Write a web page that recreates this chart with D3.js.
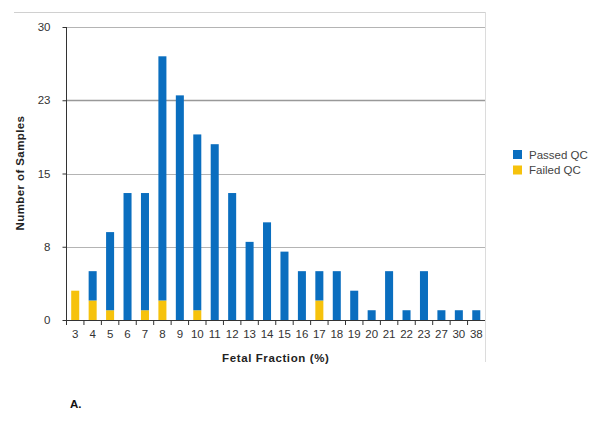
<!DOCTYPE html>
<html>
<head>
<meta charset="utf-8">
<script src="https://cdn.jsdelivr.net/npm/d3@7"></script>
<style>
  body { margin: 0; background: #fff; }
  svg { display: block; font-family: "Liberation Sans", Arial, sans-serif; }
</style>
</head>
<body>
<div id="chart"></div>
<script>
// fetal fraction bins and sample counts
var categories = ["3","4","5","6","7","8","9","10","11","12","13","14","15","16","17","18","19","20","21","22","23","27","30","38"];
var passed = [0, 3, 8, 13, 12, 25, 23, 18, 18, 13, 8, 10, 7, 5, 3, 5, 3, 1, 5, 1, 5, 1, 1, 1];
var failed = [3, 2, 1, 0, 1, 2, 0, 1, 0, 0, 0, 0, 0, 0, 2, 0, 0, 0, 0, 0, 0, 0, 0, 0];
var yTicks = [0, 7.5, 15, 22.5, 30];
var seriesNames = ["Passed QC", "Failed QC"];

var width = 600,
    height = 436,
    plotLeft = 66.5,
    plotRight = 485,
    plotTop = 27,
    plotBottom = 320;

var colors = {"Passed QC": "#0a6ebf", "Failed QC": "#f6c20c"};

var svg = d3.select('#chart')
    .append('svg')
    .attr('width', width)
    .attr('height', height);

var x = d3.scaleBand()
    .domain(categories)
    .range([plotLeft, plotRight])
    .paddingInner(0.54)
    .paddingOuter(0.27);

var y = d3.scaleLinear()
    .domain([0, 30])
    .range([plotBottom, plotTop]);

// frame lines (top and right)
svg.append('line')
    .attr('x1', 14).attr('x2', plotRight)
    .attr('y1', 12.5).attr('y2', 12.5)
    .attr('stroke', '#d0d0d0');
svg.append('line')
    .attr('x1', plotRight + 0.5).attr('x2', plotRight + 0.5)
    .attr('y1', 12).attr('y2', 362)
    .attr('stroke', '#dcdcdc');

// gridlines
svg.append('g')
    .selectAll('line')
    .data(yTicks.slice(1))
    .enter()
    .append('line')
    .attr('x1', plotLeft).attr('x2', plotRight)
    .attr('y1', function (d) { return Math.round(y(d)) + 0.5; })
    .attr('y2', function (d) { return Math.round(y(d)) + 0.5; })
    .attr('stroke', function (d) { return d === 22.5 ? '#999' : '#b4b4b4'; })
    .attr('stroke-width', function (d) { return d === 22.5 ? 1.6 : 1; });

// stacked bars
var table = categories.map(function (c, i) {
    return {cat: c, "Failed QC": failed[i], "Passed QC": passed[i]};
});
var stack = d3.stack().keys(["Failed QC", "Passed QC"])(table);

svg.append('g')
    .selectAll('g')
    .data(stack)
    .enter()
    .append('g')
    .attr('fill', function (s) { return colors[s.key]; })
    .selectAll('rect')
    .data(function (s) { return s; })
    .enter()
    .append('rect')
    .attr('x', function (d) { return x(d.data.cat); })
    .attr('width', x.bandwidth())
    .attr('y', function (d) { return y(d[1]); })
    .attr('height', function (d) { return y(d[0]) - y(d[1]); });

// y axis
var yAxis = svg.append('g')
    .attr('transform', 'translate(' + plotLeft + ',0)')
    .call(d3.axisLeft(y).tickValues(yTicks).tickSize(4).tickPadding(12)
        .tickFormat(function (d) { return Math.round(d); }));
yAxis.select('.domain').attr('stroke', '#333').attr('d', 'M0,' + plotTop + 'V' + plotBottom);
yAxis.selectAll('.tick line').attr('stroke', '#333');
yAxis.selectAll('text').attr('fill', '#333').style('font-size', '11.5px');

// x axis with ticks between categories
var xAxis = svg.append('g')
    .attr('transform', 'translate(0,' + plotBottom + ')')
    .call(d3.axisBottom(x).tickSize(0).tickPadding(10));
xAxis.select('.domain').attr('stroke', '#333').attr('d', 'M' + plotLeft + ',0.5H' + plotRight);
xAxis.selectAll('text').attr('fill', '#333').style('font-size', '11.5px');

svg.append('g')
    .selectAll('line')
    .data(d3.range(categories.length))
    .enter()
    .append('line')
    .attr('x1', function (i) { return plotLeft + i * (plotRight - plotLeft) / categories.length; })
    .attr('x2', function (i) { return plotLeft + i * (plotRight - plotLeft) / categories.length; })
    .attr('y1', plotBottom)
    .attr('y2', plotBottom + 5)
    .attr('stroke', '#333');

// axis titles
svg.append('text')
    .attr('x', (plotLeft + plotRight) / 2)
    .attr('y', 362)
    .attr('text-anchor', 'middle')
    .attr('font-weight', 'bold')
    .attr('font-size', '11.5px')
    .attr('letter-spacing', '0.6px')
    .attr('fill', '#222')
    .text('Fetal Fraction (%)');

svg.append('text')
    .attr('transform', 'translate(24,173) rotate(-90)')
    .attr('text-anchor', 'middle')
    .attr('font-weight', 'bold')
    .attr('font-size', '11.5px')
    .attr('letter-spacing', '0.4px')
    .attr('fill', '#222')
    .text('Number of Samples');

// legend
var legend = svg.append('g')
    .selectAll('g')
    .data(seriesNames)
    .enter()
    .append('g')
    .attr('transform', function (d, i) { return 'translate(513,' + (150 + i * 15.5) + ')'; });
legend.append('rect')
    .attr('width', 9)
    .attr('height', 9)
    .attr('fill', function (d) { return colors[d]; });
legend.append('text')
    .attr('x', 16)
    .attr('y', 8.5)
    .attr('font-size', '11.5px')
    .attr('fill', '#444')
    .text(function (d) { return d; });

// panel label
svg.append('text')
    .attr('x', 70)
    .attr('y', 408)
    .attr('font-weight', 'bold')
    .attr('font-size', '11.5px')
    .attr('fill', '#111')
    .text('A.');
</script>
</body>
</html>
